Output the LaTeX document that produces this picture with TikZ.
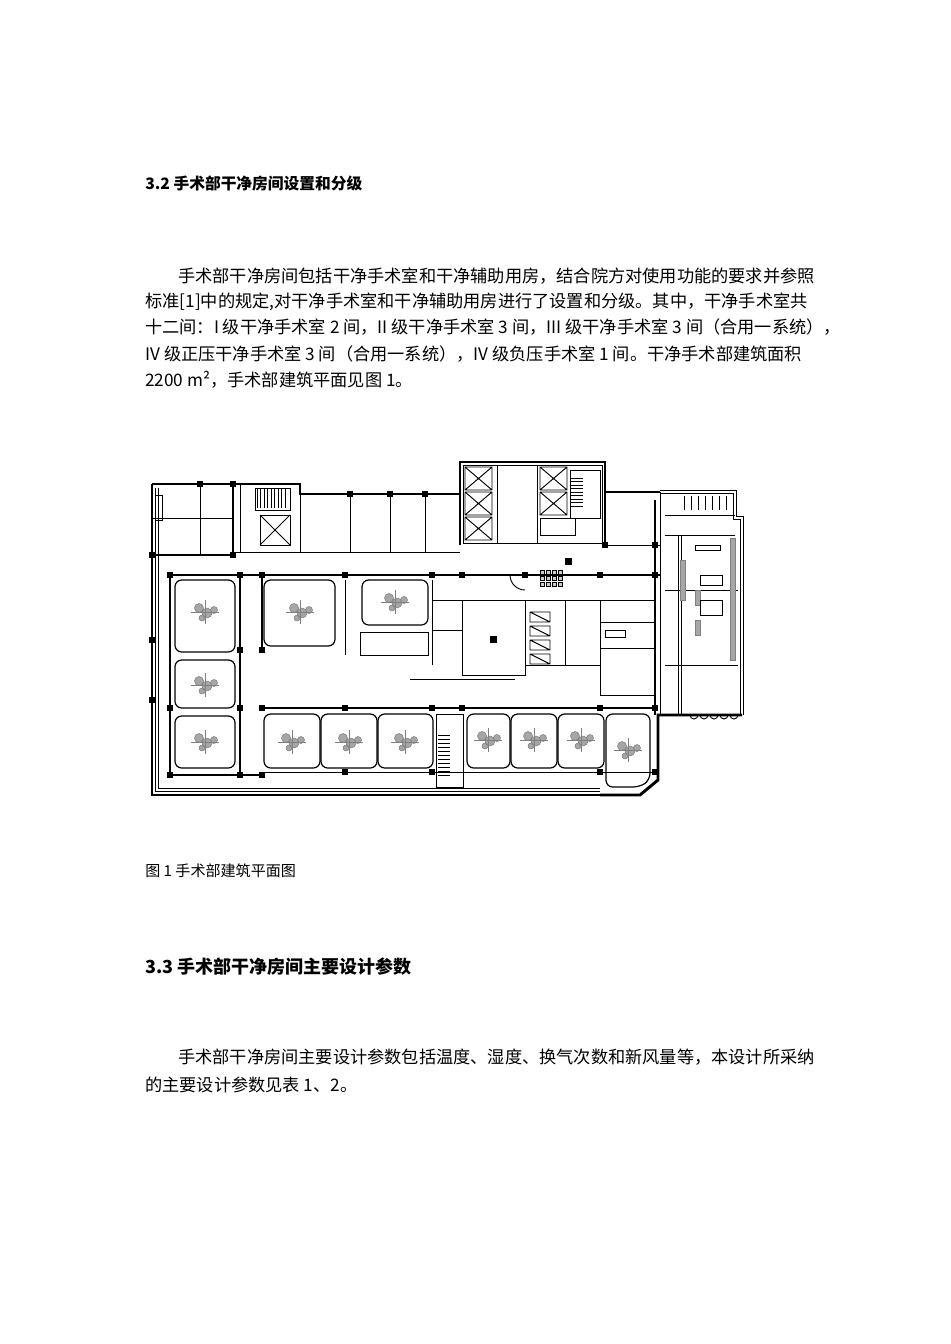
\documentclass[tikz,border=0pt]{standalone}
\usepackage{fontspec}
\setmainfont{Noto Sans CJK SC}
\begin{document}
\begin{tikzpicture}[x=0.75pt,y=-0.75pt,
  txt/.style={anchor=base west,inner sep=0pt,font=\fontsize{12.9}{15}\selectfont},
  wall/.style={line width=2.2pt},
  thin/.style={line width=0.7pt},
  orr/.style={line width=0.9pt,rounded corners=5pt},
  equip/.style={fill=gray!70,draw=gray,line width=0.4pt},
  col/.style={fill=black}]
\useasboundingbox (0,0) rectangle (950,1344);
% ---------- text ----------
\node[txt,font=\fontsize{11.8}{14}\selectfont\bfseries] (h1) at (145,190) {3.2 手术部干净房间设置和分级};
\node[txt] (p1) at (178,283) {手术部干净房间包括干净手术室和干净辅助用房，结合院方对使用功能的要求并参照};
\node[txt] (p2) at (145,308) {标准[1]中的规定,对干净手术室和干净辅助用房进行了设置和分级。其中，干净手术室共};
\node[txt] (p3) at (145,334) {十二间：I 级干净手术室 2 间，II 级干净手术室 3 间，III 级干净手术室 3 间（合用一系统），};
\node[txt] (p4) at (145,360) {IV 级正压干净手术室 3 间（合用一系统），IV 级负压手术室 1 间。干净手术部建筑面积};
\node[txt] (p5) at (145,386) {2200 m²，手术部建筑平面见图 1。};
\node[txt,font=\fontsize{11.3}{13}\selectfont] (cap) at (145,876) {图 1 手术部建筑平面图};
\node[txt,font=\fontsize{13.5}{15}\selectfont\bfseries] (h2) at (145,973) {3.3 手术部干净房间主要设计参数};
\node[txt] (q1) at (178,1063) {手术部干净房间主要设计参数包括温度、湿度、换气次数和新风量等，本设计所采纳};
\node[txt] (q2) at (145,1091) {的主要设计参数见表 1、2。};
% ---------- plan: outer walls ----------
\draw[wall] (152,484) -- (300,484) -- (300,494) -- (460,494);
\draw[wall] (460,545) -- (460,462) -- (605,462) -- (605,492) -- (660,492);
\draw[thin,double,double distance=2pt] (660,492) -- (735,492) -- (735,518) -- (742,518) -- (742,715);
\draw[wall] (152,484) -- (152,795) -- (600,795);
\draw[thin,double,double distance=2pt] (157,488) -- (157,790) -- (600,790);
\draw[wall] (600,795) -- (640,795) -- (658,780) -- (658,715) -- (742,715);
\draw[wall] (605,462) -- (605,545);
\draw[wall] (233,484) -- (233,555);
\draw[wall] (152,555) -- (233,555);
\draw[thin] (233,552) -- (460,552);
% top-left rooms
\draw[thin] (152,518) -- (233,518) (200,484) -- (200,555);
\draw[thin] (240,484) rectangle (300,552) (255,488) rectangle (290,510) (260,515) rectangle (290,545);
\draw[thin] (260,515) -- (290,545) (260,545) -- (290,515);
\foreach \i in {0,...,8} \draw[thin] (257+\i*3.5,489) -- (257+\i*3.5,508);
\draw[thin] (155,495) rectangle (162,520);
% top row rooms
\foreach \x in {350,390,425} \draw[thin] (\x,494) -- (\x,552);
% elevator core
\draw[thin] (463,465) rectangle (602,543);
\foreach \y in {467,492,517}{
  \draw[thin] (465,\y) rectangle (492,\y+23) (465,\y) -- (492,\y+23) (465,\y+23) -- (492,\y);}
\foreach \y in {467,492}{
  \draw[thin] (540,\y) rectangle (567,\y+23) (540,\y) -- (567,\y+23) (540,\y+23) -- (567,\y);}
\draw[thin] (497,465) rectangle (537,543) (570,470) rectangle (600,518);
\foreach \i in {0,...,8} \draw[thin] (571,478+\i*3.5) -- (583,478+\i*3.5);
\draw[thin] (540,518) rectangle (575,535);
% right upper room and wing
\draw[thin] (605,545) -- (660,545) (660,492) -- (660,715);
\draw[wall] (655,500) -- (655,715);
\draw[thin] (665,515) -- (735,515) (665,535) -- (735,535) (665,590) -- (738,590) (665,665) -- (738,665);
\draw[thin] (678,535) -- (678,715) (681,535) -- (681,715);
\draw[equip] (680,560) rectangle (685,600) (730,538) rectangle (735,660) (695,590) rectangle (700,605) (695,620) rectangle (700,635);
\draw[thin] (700,575) rectangle (722,585) (700,600) rectangle (722,615) (695,545) rectangle (720,550);
\foreach \x in {690,700,...,730} \draw[thin] (\x,715) arc (180:0:4);
\foreach \x in {684,691,698,705,712,719,726} \draw[thin] (\x,496) -- (\x,510);
% corridor inner walls
\draw[wall] (170,575) -- (600,575) (170,575) -- (170,775) -- (262,775);
\draw[wall] (600,575) -- (660,575);
\draw[thin] (262,772) -- (655,772);
\draw[wall] (262,708) -- (655,708);
\draw[wall] (240,575) -- (240,775) (262,575) -- (262,650);
% operating rooms
\draw[orr] (175,580) rectangle (235,652);
\draw[orr] (175,660) rectangle (235,708);
\draw[orr] (175,716) rectangle (235,768);
\draw[orr] (264,580) rectangle (335,646);
\draw[orr] (362,580) rectangle (428,625);
\draw[thin] (345,580) -- (345,655) (432,580) -- (432,665);
\draw[thin] (360,632) rectangle (428,655);
\foreach \a/\b in {264/320,321/377,378/433,467/510,511/557,558/604}
  \draw[orr] (\a,714) rectangle (\b,768);
\draw[orr] (606,714) -- (650,714) -- (650,780) -- (640,787) -- (606,787) -- cycle;
\draw[thin] (436,714) rectangle (463,787);
\foreach \i in {0,...,10} \draw[thin] (438,735+\i*4) -- (450,735+\i*4);
% equipment in ORs
\foreach \cx/\cy in {205/612,205/685,205/742,300/612,395/602,292/742,349/742,405/742,488/740,534/740,581/740,628/750}{
  \fill[equip] (\cx-6,\cy-4) circle (4.5) (\cx+2,\cy+1) circle (5) (\cx+9,\cy-2) circle (3.5) (\cx-3,\cy+6) circle (3);
  \draw[gray,line width=0.5pt] (\cx-14,\cy) -- (\cx+14,\cy) (\cx,\cy-12) -- (\cx,\cy+12);}
% central rooms
\draw[thin] (462,600) rectangle (525,675) (525,600) rectangle (565,665) (565,600) rectangle (600,665);
\draw[thin] (600,600) rectangle (655,622) (600,622) rectangle (655,648) (600,648) rectangle (655,695);
\draw[thin] (432,600) -- (462,600) (432,630) -- (462,630);
\fill (490,636) rectangle (497,643);
\fill (565,558) rectangle (572,565);
\foreach \i in {0,...,3} \foreach \j in {0,...,2} \draw[thin,fill=gray!40] (540+\i*6,570+\j*6) rectangle (544+\i*6,574+\j*6);
\foreach \i in {0,...,3} \draw[thin] (530,612+\i*14) rectangle (550,622+\i*14) (530,612+\i*14) -- (550,622+\i*14);
\draw[thin] (605,630) rectangle (625,637);
\draw[thin,double] (410,680) -- (515,680);
\draw[thin] (510,575) arc (180:90:15);
% columns
\foreach \p in {(170,575),(240,575),(262,575),(345,575),(432,575),(462,575),(525,575),(600,575),(655,575),
  (170,708),(240,708),(262,708),(345,708),(432,708),(462,708),(600,708),(655,708),
  (240,650),(262,650),(170,775),(240,775),(262,775),(345,772),(432,772),(600,772),(655,772),
  (200,484),(233,484),(350,494),(390,494),(425,494),(152,555),(233,555),(605,545),(655,545),(152,640),(152,700)}
  \fill \p +(-3,-3) rectangle +(3,3);
\end{tikzpicture}
\end{document}
